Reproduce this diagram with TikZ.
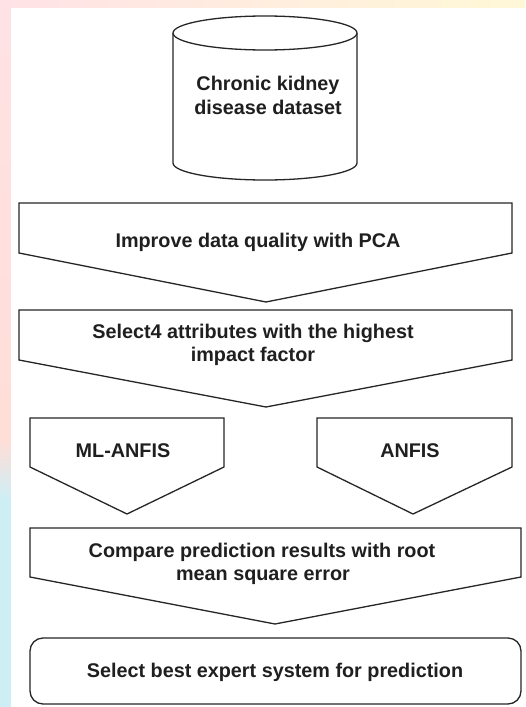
\documentclass[tikz,border=0pt]{standalone}
\usepackage{fontspec}
\setmainfont{Liberation Sans}
\definecolor{wmpink}{RGB}{255,226,230}
\definecolor{wmpeach}{RGB}{255,222,215}
\definecolor{wmcyan}{RGB}{206,238,246}
\definecolor{wmyellow}{RGB}{255,248,215}
\begin{document}
\begin{tikzpicture}[x=1pt,y=-1pt,
  outline/.style={draw=black!85, fill=white, line width=1.3pt, line join=miter},
  lbl/.style={font=\fontsize{19.8}{23}\selectfont\bfseries, text=black!88, inner sep=0pt, anchor=base}]
\useasboundingbox (0,0) rectangle (525,707);
% faint watermark strips of the page background
\shade[top color=wmpink, bottom color=wmpeach] (0,0) rectangle (11,440);
\shade[top color=wmpeach, bottom color=wmcyan] (0,440) rectangle (11,500);
\fill[wmcyan] (0,500) rectangle (11,707);
\shade[left color=wmpink, right color=wmyellow] (0,0) rectangle (525,8);
\fill[white] (11,8) rectangle (525,707);

% database cylinder
\draw[outline] (173,33) -- (173,163) arc[start angle=180, end angle=0, x radius=92, y radius=17] -- (357,33);
\draw[outline] (265,33) ellipse[x radius=92, y radius=17];
\node[lbl] (cyl1) at (268,90) {Chronic kidney};
\node[lbl] (cyl2) at (268,114) {disease dataset};

% step 1
\draw[outline] (19,203) -- (512,203) -- (512,253) -- (266,302) -- (19,253) -- cycle;
\node[lbl] (pca) at (258,247) {Improve data quality with PCA};

% step 2
\draw[outline] (19,310) -- (512,310) -- (512,360) -- (266,407) -- (19,360) -- cycle;
\node[lbl] (sel1) at (253,338) {Select4 attributes with the highest};
\node[lbl] (sel2) at (253,361) {impact factor};

% two methods
\draw[outline] (30,418) -- (224,418) -- (224,467) -- (127,514) -- (30,467) -- cycle;
\node[lbl] (ml) at (123,457) {ML-ANFIS};
\draw[outline] (317,418) -- (512,418) -- (512,467) -- (413,514) -- (317,467) -- cycle;
\node[lbl] (anfis) at (410,457) {ANFIS};

% compare
\draw[outline] (30,528) -- (521,528) -- (521,577) -- (275,624) -- (30,577) -- cycle;
\node[lbl] (cmp1) at (262,557) {Compare prediction results with root};
\node[lbl] (cmp2) at (263,580) {mean square error};

% final
\draw[outline, rounded corners=13pt] (30,638) rectangle (521,704);
\node[lbl] (best) at (275,677) {Select best expert system for prediction};
\end{tikzpicture}
\end{document}
